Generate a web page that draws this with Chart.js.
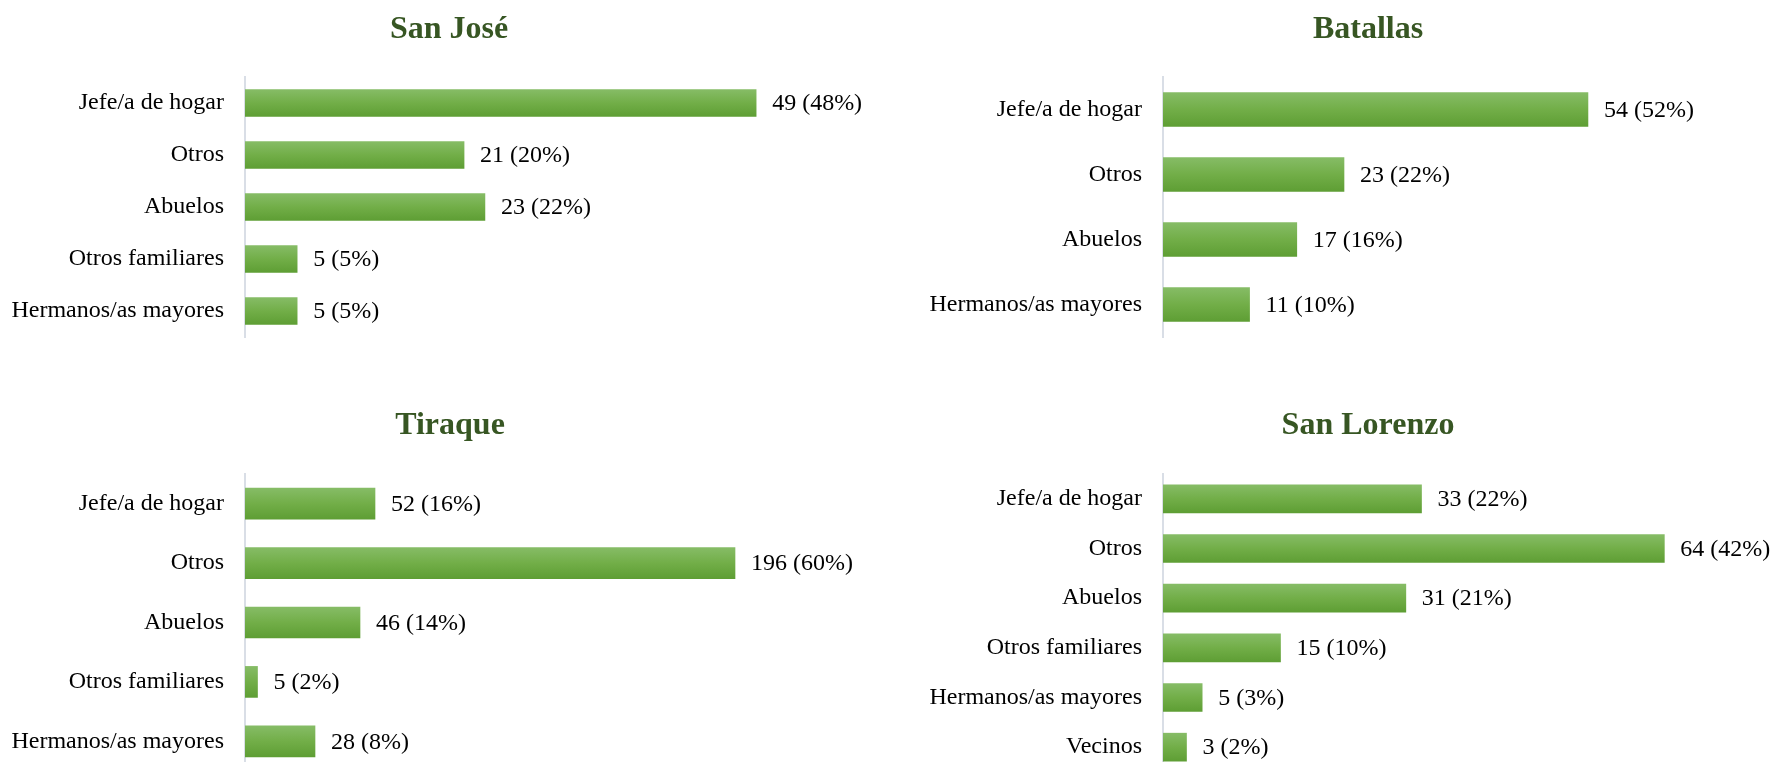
<!DOCTYPE html>
<html>
<head>
<meta charset="utf-8">
<script src="https://cdn.jsdelivr.net/npm/chart.js@4.4.1/dist/chart.umd.min.js"></script>
<style>
  html, body { margin: 0; padding: 0; background: #fff; overflow: hidden; }
  #page { position: relative; width: 1772px; height: 762px; overflow: hidden; }
  canvas { position: absolute; }
</style>
</head>
<body>
<div id="page">
  <canvas id="sanjose" width="900" height="381" style="left:0;top:0"></canvas>
  <canvas id="batallas" width="1000" height="381" style="left:886px;top:0"></canvas>
  <canvas id="tiraque" width="902" height="404" style="left:0;top:381px"></canvas>
  <canvas id="sanlorenzo" width="1000" height="405" style="left:886px;top:381px"></canvas>
</div>
<script>
// data
const sanJoseLabels = ['Jefe/a de hogar', 'Otros', 'Abuelos', 'Otros familiares', 'Hermanos/as mayores'];
const sanJoseValues = [49, 21, 23, 5, 5];
const sanJosePct = [48, 20, 22, 5, 5];

const batallasLabels = ['Jefe/a de hogar', 'Otros', 'Abuelos', 'Hermanos/as mayores'];
const batallasValues = [54, 23, 17, 11];
const batallasPct = [52, 22, 16, 10];

const tiraqueLabels = ['Jefe/a de hogar', 'Otros', 'Abuelos', 'Otros familiares', 'Hermanos/as mayores'];
const tiraqueValues = [52, 196, 46, 5, 28];
const tiraquePct = [16, 60, 14, 2, 8];

const sanLorenzoLabels = ['Jefe/a de hogar', 'Otros', 'Abuelos', 'Otros familiares', 'Hermanos/as mayores', 'Vecinos'];
const sanLorenzoValues = [33, 64, 31, 15, 5, 3];
const sanLorenzoPct = [22, 42, 21, 10, 3, 2];

const FONT = "'Liberation Serif', 'Times New Roman', serif";

// vertical gradient per bar, like the Excel fill
function barFill(ctx) {
    const chart = ctx.chart;
    const y = chart.scales && chart.scales.y;
    if (!chart.chartArea || !y || ctx.dataIndex === undefined) return '#70AD47';
    const c = y.getPixelForValue(ctx.dataIndex);
    const h = ctx.dataset.barThickness / 2;
    const g = chart.ctx.createLinearGradient(0, c - h, 0, c + h);
    g.addColorStop(0, '#86BC66');
    g.addColorStop(0.5, '#72AE48');
    g.addColorStop(1, '#5E9E34');
    return g;
}

// "n (p%)" labels to the right of each bar
const valueLabels = {
    id: 'valueLabels',
    afterDatasetsDraw(chart) {
        const ctx = chart.ctx;
        const meta = chart.getDatasetMeta(0);
        const ds = chart.data.datasets[0];
        ctx.save();
        ctx.font = '24px ' + FONT;
        ctx.fillStyle = '#000';
        ctx.textAlign = 'left';
        ctx.textBaseline = 'middle';
        meta.data.forEach((bar, i) => {
            ctx.fillText(ds.data[i] + ' (' + ds.pct[i] + '%)', bar.x + 16, bar.y + 1);
        });
        ctx.restore();
    }
};

function makeChart(id, title, labels, values, pct, o) {
    return new Chart(document.getElementById(id), {
        type: 'bar',
        data: {
            labels: labels,
            datasets: [{
                data: values,
                pct: pct,
                backgroundColor: barFill,
                borderWidth: 0,
                barThickness: o.bar
            }]
        },
        options: {
            indexAxis: 'y',
            responsive: false,
            animation: false,
            layout: { padding: { left: 0, right: o.pr, top: 0, bottom: o.pb } },
            plugins: {
                legend: { display: false },
                tooltip: { enabled: false },
                title: {
                    display: true,
                    text: title,
                    color: '#375623',
                    font: { family: FONT, size: 32, weight: 'bold', lineHeight: 1 },
                    padding: { top: o.tt, bottom: o.tb }
                }
            },
            scales: {
                x: { display: false, min: 0, max: o.max },
                y: {
                    // no tick marks drawn, tickLength only spaces labels from the axis
                    grid: { display: false, drawTicks: true, tickLength: 21 },
                    border: { display: true, color: '#D9DEE6', width: 2 },
                    ticks: { color: '#000', padding: 0, font: { family: FONT, size: 24, lineHeight: 1 } },
                    afterFit: (scale) => { scale.width = o.yw; }
                }
            }
        },
        plugins: [valueLabels]
    });
}

makeChart('sanjose', 'San José', sanJoseLabels, sanJoseValues, sanJosePct,
    { max: 62.6, bar: 27, pr: 2, pb: 44, yw: 245, tt: 14, tb: 31 });
makeChart('batallas', 'Batallas', batallasLabels, batallasValues, batallasPct,
    { max: 87.3, bar: 34, pr: 36, pb: 44, yw: 277, tt: 14, tb: 31 });
makeChart('tiraque', 'Tiraque', tiraqueLabels, tiraqueValues, tiraquePct,
    { max: 262, bar: 31, pr: 2, pb: 14, yw: 245, tt: 29, tb: 32 });
makeChart('sanlorenzo', 'San Lorenzo', sanLorenzoLabels, sanLorenzoValues, sanLorenzoPct,
    { max: 87.7, bar: 28, pr: 36, pb: 14, yw: 277, tt: 29, tb: 32 });
</script>
</body>
</html>
